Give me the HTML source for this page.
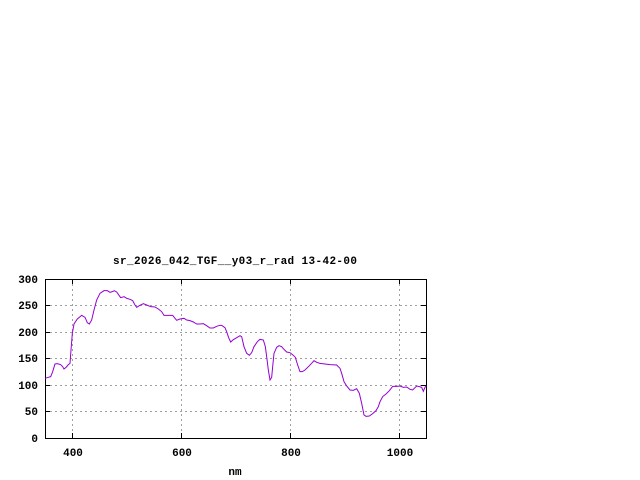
<!DOCTYPE html>
<html><head><style>
html,body{margin:0;padding:0;background:#fff;}
svg{display:block;}
text{font-family:"Liberation Mono","DejaVu Sans Mono",monospace;font-size:11px;font-weight:bold;fill:#000;}
</style></head><body>
<svg width="640" height="480" viewBox="0 0 640 480" xmlns="http://www.w3.org/2000/svg">
<rect width="640" height="480" fill="#fff"/>
<g stroke="#a0a0a0" stroke-width="1" stroke-dasharray="2,3" fill="none">
<line x1="45" y1="411.5" x2="426" y2="411.5"/>
<line x1="45" y1="385.5" x2="426" y2="385.5"/>
<line x1="45" y1="358.5" x2="426" y2="358.5"/>
<line x1="45" y1="332.5" x2="426" y2="332.5"/>
<line x1="45" y1="305.5" x2="426" y2="305.5"/>
<line x1="72.5" y1="279" x2="72.5" y2="438"/>
<line x1="181.5" y1="279" x2="181.5" y2="438"/>
<line x1="290.5" y1="279" x2="290.5" y2="438"/>
<line x1="399.5" y1="279" x2="399.5" y2="438"/>
</g>
<g stroke="#000" stroke-width="1">
<line x1="45" y1="411.5" x2="50" y2="411.5"/><line x1="421" y1="411.5" x2="426" y2="411.5"/>
<line x1="45" y1="385.5" x2="50" y2="385.5"/><line x1="421" y1="385.5" x2="426" y2="385.5"/>
<line x1="45" y1="358.5" x2="50" y2="358.5"/><line x1="421" y1="358.5" x2="426" y2="358.5"/>
<line x1="45" y1="332.5" x2="50" y2="332.5"/><line x1="421" y1="332.5" x2="426" y2="332.5"/>
<line x1="45" y1="305.5" x2="50" y2="305.5"/><line x1="421" y1="305.5" x2="426" y2="305.5"/>
<line x1="72.5" y1="438" x2="72.5" y2="433"/><line x1="72.5" y1="279" x2="72.5" y2="284"/>
<line x1="181.5" y1="438" x2="181.5" y2="433"/><line x1="181.5" y1="279" x2="181.5" y2="284"/>
<line x1="290.5" y1="438" x2="290.5" y2="433"/><line x1="290.5" y1="279" x2="290.5" y2="284"/>
<line x1="399.5" y1="438" x2="399.5" y2="433"/><line x1="399.5" y1="279" x2="399.5" y2="284"/>
</g>
<rect x="45.5" y="279.5" width="381" height="159" fill="none" stroke="#000" stroke-width="1"/>
<g transform="translate(0,250) scale(0.3333333)">
<polyline fill="none" stroke="#9400d3" stroke-width="3" points="135,385 145,382 152,380 158,365 165,342 172,341 182,344 188,350 192,357 198,352 205,344 210,340 213,300 217,250 222,222 232,207 245,196 255,202 262,218 268,222 275,210 282,180 290,150 300,130 312,122 322,122 330,127 337,125 343,122 350,126 357,136 362,143 372,140 380,145 390,148 398,152 405,165 410,172 420,166 430,161 440,165 452,170 465,171 475,177 485,185 492,196 505,196 518,196 525,205 530,211 540,207 552,205 560,210 570,212 580,216 590,222 600,222 610,221 620,227 630,234 640,234 650,229 660,226 665,226 675,233 680,245 686,263 692,276 700,269 710,263 720,257 725,260 732,290 740,310 748,316 755,308 762,290 772,275 780,268 790,270 796,290 800,320 805,360 810,390 815,382 818,350 822,310 830,292 837,287 845,290 850,296 860,306 870,308 880,316 886,322 893,345 900,365 907,365 915,360 925,350 935,340 942,332 950,337 960,340 975,342 990,344 1010,345 1020,355 1025,370 1032,395 1040,408 1050,420 1060,421 1070,416 1078,430 1085,460 1092,495 1098,499 1108,498 1118,491 1128,482 1135,470 1140,455 1148,440 1158,432 1168,422 1178,409 1190,409 1200,408 1210,412 1220,411 1230,418 1238,420 1245,413 1250,408 1258,410 1265,412 1270,424 1275,412 1279,408"/>
</g>
<g text-anchor="end">
<text x="38" y="442">0</text>
<text x="38" y="415">50</text>
<text x="38" y="389">100</text>
<text x="38" y="362">150</text>
<text x="38" y="336">200</text>
<text x="38" y="309">250</text>
<text x="38" y="283">300</text>
</g>
<g text-anchor="middle">
<text x="73" y="456">400</text>
<text x="182" y="456">600</text>
<text x="291" y="456">800</text>
<text x="400" y="456">1000</text>
<text x="235" y="475">nm</text>
</g>
<text x="113" y="264" textLength="244" lengthAdjust="spacing">sr_2026_042_TGF__y03_r_rad 13-42-00</text>
</svg>
</body></html>
